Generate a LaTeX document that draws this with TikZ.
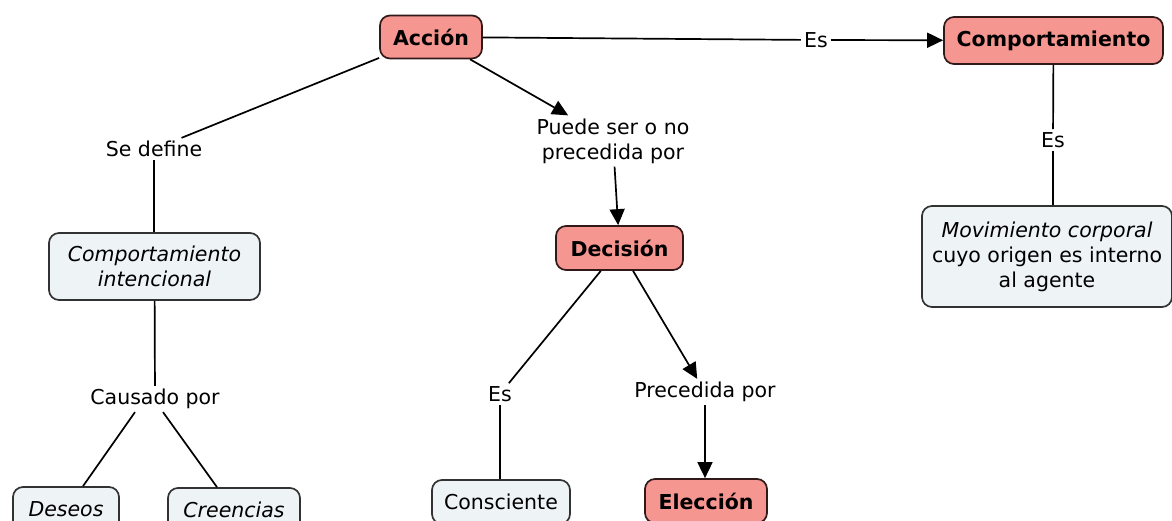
\documentclass[tikz,border=0pt]{standalone}
\usepackage{fontspec}
\setmainfont{DejaVu Sans}
\usetikzlibrary{arrows.meta}
\definecolor{cred}{RGB}{246,150,145}
\definecolor{cpale}{RGB}{238,243,245}
\definecolor{credline}{RGB}{50,25,25}
\definecolor{cpaleline}{RGB}{50,50,50}
\begin{document}
\begin{tikzpicture}[x=1pt,y=-1pt,
 every node/.style={font=\fontsize{20.5}{25}\selectfont},
 concept/.style={draw=credline, fill=cred, rounded corners=10pt, line width=1.7pt, font=\fontsize{20.5}{25}\selectfont\bfseries, inner sep=0pt},
 plainbox/.style={draw=cpaleline, fill=cpale, rounded corners=10pt, line width=1.7pt, inner sep=0pt, align=center},
 lbl/.style={inner sep=3pt, align=center},
 link/.style={line width=1.7pt, black},
 arr/.style={link, -{Triangle[length=16pt,width=15pt]}}
]
\useasboundingbox (0,0) rectangle (1172,521);
\node[concept, minimum width=102pt, minimum height=43pt] (accion) at (431,37) {Acción};
\node[concept, minimum width=219pt, minimum height=47pt] (comp) at (1053.5,40.5) {Comportamiento};
\node[plainbox, minimum width=250pt, minimum height=101pt] (mov) at (1047,256.5) {\textit{Movimiento corporal}\\cuyo origen es interno\\al agente};
\node[plainbox, minimum width=211pt, minimum height=67pt] (ci) at (154.5,266.5) {\textit{Comportamiento}\\\textit{intencional}};
\node[plainbox, minimum width=106pt, minimum height=44pt] (deseos) at (66,509) {\textit{Deseos}};
\node[plainbox, minimum width=132pt, minimum height=44pt] (creencias) at (234,510) {\textit{Creencias}};
\node[plainbox, minimum width=138pt, minimum height=44pt] (consc) at (501,502) {Consciente};
\node[concept, minimum width=122pt, minimum height=44pt] (eleccion) at (706,501) {Elección};
\node[concept, minimum width=127pt, minimum height=44pt] (decision) at (619.5,248) {Decisión};

\node[lbl] (es1) at (816,40) {Es};
\node[lbl] (es2) at (1053,140) {Es};
\node[lbl] (sedef) at (154,149) {Se define};
\node[lbl] (puede) at (613,141) {Puede ser o no\\precedida por};
\node[lbl] (causado) at (155,399) {Causado por};
\node[lbl] (es3) at (500,394) {Es};
\node[lbl] (preced) at (705,392) {Precedida por};

\draw[link] (accion) -- (sedef);
\draw[link] (sedef) -- (sedef |- ci.north);
\draw[arr] (accion) -- (puede);
\draw[arr] (puede) -- (decision);
\draw[link] (accion) -- (es1);
\draw[arr] (es1) -- (comp);
\draw[link] (comp) -- (es2);
\draw[link] (es2) -- (es2 |- mov.north);
\draw[link] (ci) -- (causado);
\draw[link] ([xshift=-20pt]causado.south) -- ([xshift=17pt]deseos.north);
\draw[link] ([xshift=8pt]causado.south) -- ([xshift=-17pt]creencias.north);
\draw[link] (decision) -- (es3);
\draw[link] (es3) -- (es3 |- consc.north);
\draw[arr] (decision) -- (preced);
\draw[arr] (preced) -- (preced |- eleccion.north);
\end{tikzpicture}
\end{document}
